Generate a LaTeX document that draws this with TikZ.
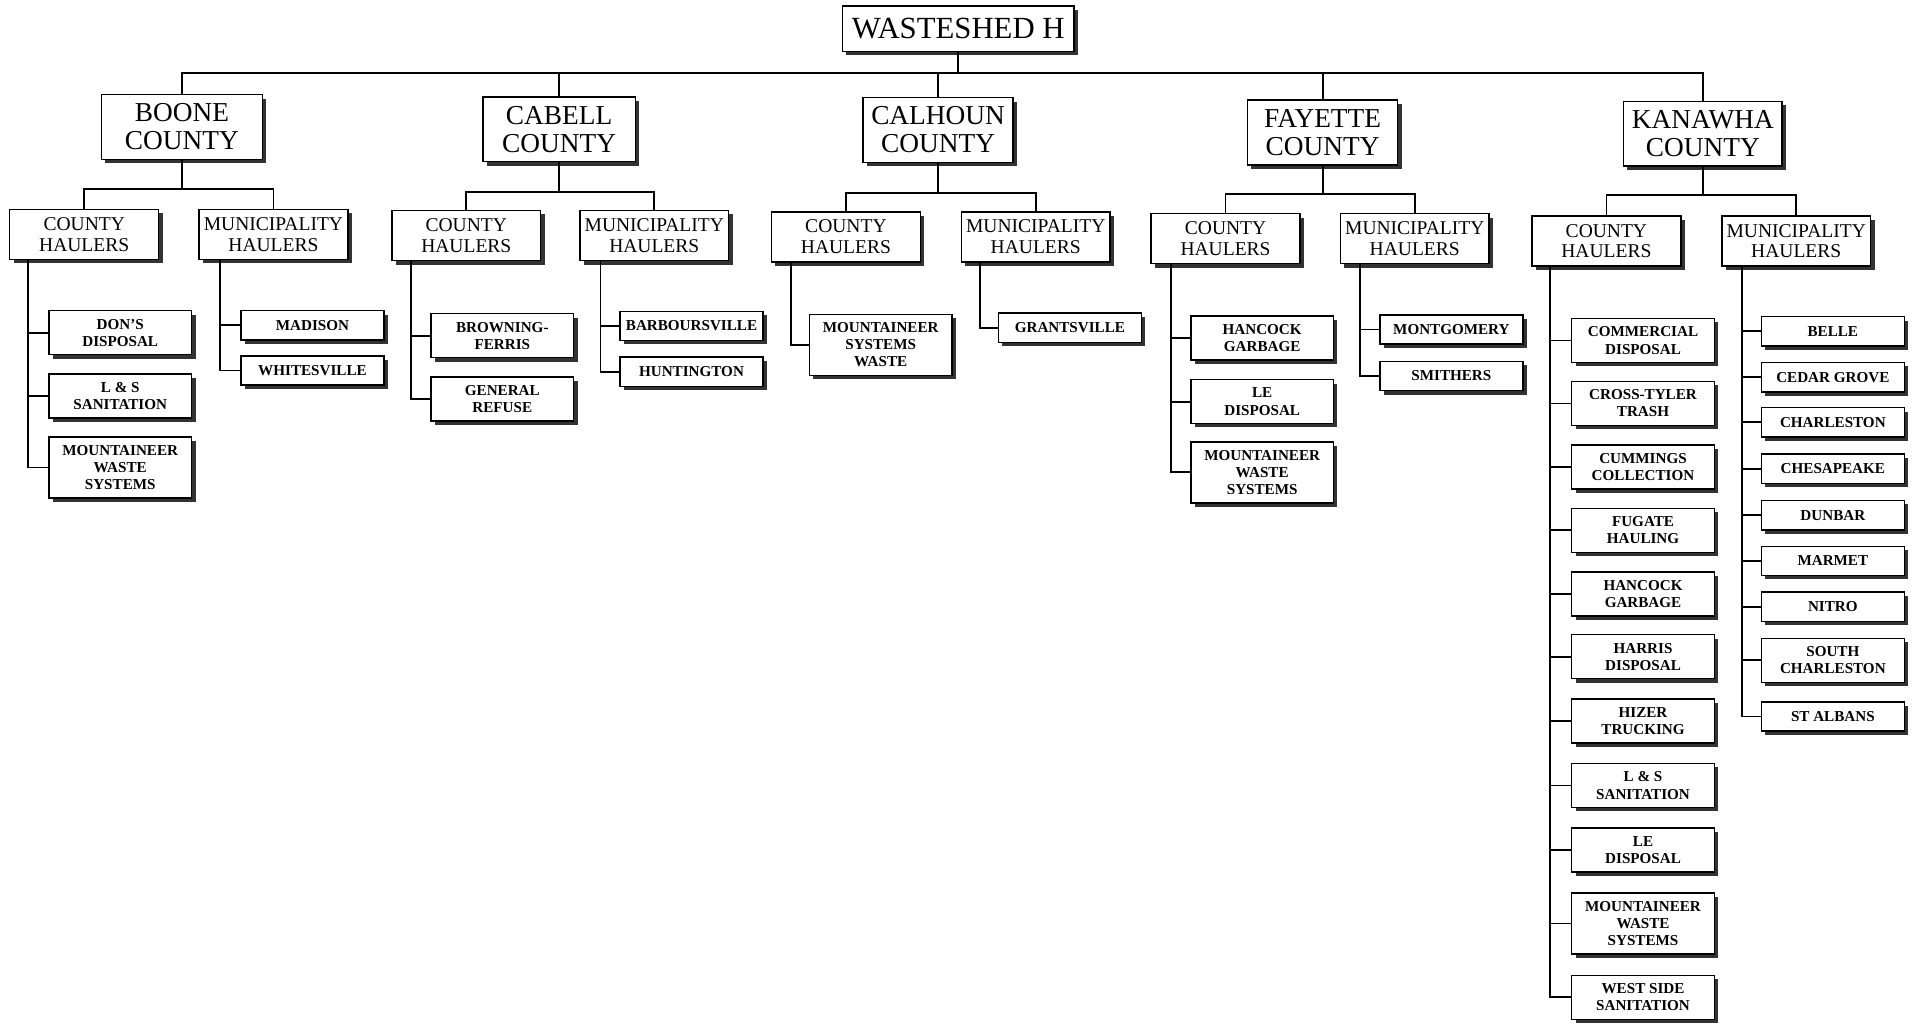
\documentclass[tikz,border=0pt]{standalone}
\usepackage{fontspec}
\setmainfont{Liberation Serif}
\usetikzlibrary{shadows}
\begin{document}
\begin{tikzpicture}[x=0.5pt,y=-0.5pt,
 box/.style={draw, line width=0.6pt, fill=white, inner sep=0pt, align=center,
   drop shadow={shadow xshift=1.6pt, shadow yshift=-1.6pt, fill=black!80, opacity=1}},
 topbox/.style={box, minimum width=95pt, minimum height=18.5pt, font=\fontsize{12.6}{14}\selectfont},
 cty/.style={box, minimum height=26.5pt, font=\fontsize{11.2}{11.5}\selectfont},
 hl/.style={box, minimum width=61pt, minimum height=20.5pt, font=\fontsize{8}{8.5}\selectfont},
 leaf/.style={box, minimum width=58.5pt, font=\bfseries\fontsize{6.2}{7}\selectfont},
 lone/.style={leaf, minimum height=12pt},
 ltwo/.style={leaf, minimum height=18pt},
 lthree/.style={leaf, minimum height=25pt},
 ln/.style={line width=0.75pt}
]
\fill[white] (0,0) rectangle (1568,839);
\useasboundingbox (0,0) rectangle (1568,839);

% level 1 and 2
\node[topbox] (ws) at (785,23.5) {WASTESHED H};
\node[cty, minimum width=66pt] (boone) at (149,104) {BOONE\\COUNTY};
\node[cty, minimum width=62.5pt] (cabell) at (458,106) {CABELL\\COUNTY};
\node[cty, minimum width=61.5pt] (calhoun) at (768.5,106.5) {CALHOUN\\COUNTY};
\node[cty, minimum width=61.5pt] (fayette) at (1083.5,108.5) {FAYETTE\\COUNTY};
\node[cty, minimum width=65pt] (kanawha) at (1395,109.5) {KANAWHA\\COUNTY};

\coordinate (bus0) at (0,60);
\draw[ln] (ws.south) -- (ws.south |- bus0);
\draw[ln] (boone.north) -- (boone.north |- bus0) -- (kanawha.north |- bus0) -- (kanawha.north);
\foreach \n in {cabell,calhoun,fayette} \draw[ln] (\n.north) -- (\n.north |- bus0);

% level 3
\node[hl] (bch) at (69,192) {COUNTY\\HAULERS};
\node[hl] (bmh) at (224,192) {MUNICIPALITY\\HAULERS};
\node[hl] (cch) at (382,193) {COUNTY\\HAULERS};
\node[hl] (cmh) at (536,193) {MUNICIPALITY\\HAULERS};
\node[hl] (lch) at (693,194) {COUNTY\\HAULERS};
\node[hl] (lmh) at (848.5,194) {MUNICIPALITY\\HAULERS};
\node[hl] (fch) at (1004,195.5) {COUNTY\\HAULERS};
\node[hl] (fmh) at (1159,195.5) {MUNICIPALITY\\HAULERS};
\node[hl] (kch) at (1316,197.5) {COUNTY\\HAULERS};
\node[hl] (kmh) at (1471.5,197.5) {MUNICIPALITY\\HAULERS};

\coordinate (busb) at (0,155);
\coordinate (busc) at (0,157);
\coordinate (busl) at (0,158);
\coordinate (busf) at (0,159);
\coordinate (busk) at (0,160);
\foreach \p/\c/\m/\b in {boone/bch/bmh/busb, cabell/cch/cmh/busc, calhoun/lch/lmh/busl, fayette/fch/fmh/busf, kanawha/kch/kmh/busk}{
  \draw[ln] (\p.south) -- (\p.south |- \b);
  \draw[ln] (\c.north) -- (\c.north |- \b) -- (\m.north |- \b) -- (\m.north);
}

% Boone
\node[ltwo] (b1) at (98.5,272.5) {DON'S\\DISPOSAL};
\node[ltwo] (b2) at (98.5,324.5) {L \& S\\SANITATION};
\node[lthree] (b3) at (98.5,383) {MOUNTAINEER\\WASTE\\SYSTEMS};
\node[lone] (bm1) at (256,266.5) {MADISON};
\node[lone] (bm2) at (256,303.5) {WHITESVILLE};
% Cabell
\node[ltwo] (c1) at (411.5,275) {BROWNING-\\FERRIS};
\node[ltwo] (c2) at (411.5,327) {GENERAL\\REFUSE};
\node[lone] (cm1) at (566.5,267) {BARBOURSVILLE};
\node[lone] (cm2) at (566.5,304.5) {HUNTINGTON};
% Calhoun
\node[lthree] (l1) at (721.5,282.5) {MOUNTAINEER\\SYSTEMS\\WASTE};
\node[lone] (lm1) at (876.5,268.5) {GRANTSVILLE};
% Fayette
\node[ltwo] (f1) at (1034,277) {HANCOCK\\GARBAGE};
\node[ltwo] (f2) at (1034,329) {LE\\DISPOSAL};
\node[lthree] (f3) at (1034,387) {MOUNTAINEER\\WASTE\\SYSTEMS};
\node[lone] (fm1) at (1189,270) {MONTGOMERY};
\node[lone] (fm2) at (1189,308) {SMITHERS};
% Kanawha county
\node[ltwo] (k1) at (1346,279) {COMMERCIAL\\DISPOSAL};
\node[ltwo] (k2) at (1346,330.5) {CROSS-TYLER\\TRASH};
\node[ltwo] (k3) at (1346,382.5) {CUMMINGS\\COLLECTION};
\node[ltwo] (k4) at (1346,434.5) {FUGATE\\HAULING};
\node[ltwo] (k5) at (1346,486.5) {HANCOCK\\GARBAGE};
\node[ltwo] (k6) at (1346,538) {HARRIS\\DISPOSAL};
\node[ltwo] (k7) at (1346,590.5) {HIZER\\TRUCKING};
\node[ltwo] (k8) at (1346,643.5) {L \& S\\SANITATION};
\node[ltwo] (k9) at (1346,696.5) {LE\\DISPOSAL};
\node[lthree] (k10) at (1346,756.5) {MOUNTAINEER\\WASTE\\SYSTEMS};
\node[ltwo] (k11) at (1346,817) {WEST SIDE\\SANITATION};
% Kanawha municipality
\node[lone] (km1) at (1501.5,271.5) {BELLE};
\node[lone] (km2) at (1501.5,309) {CEDAR GROVE};
\node[lone] (km3) at (1501.5,346) {CHARLESTON};
\node[lone] (km4) at (1501.5,384) {CHESAPEAKE};
\node[lone] (km5) at (1501.5,422) {DUNBAR};
\node[lone] (km6) at (1501.5,459.5) {MARMET};
\node[lone] (km7) at (1501.5,497) {NITRO};
\node[ltwo] (km8) at (1501.5,541) {SOUTH\\CHARLESTON};
\node[lone] (km9) at (1501.5,587) {ST ALBANS};

% spines
\coordinate (sbc) at (23,0);
\coordinate (sbm) at (180,0);
\coordinate (scc) at (337,0);
\coordinate (scm) at (492,0);
\coordinate (slc) at (648,0);
\coordinate (slm) at (803,0);
\coordinate (sfc) at (959,0);
\coordinate (sfm) at (1114,0);
\coordinate (skc) at (1270,0);
\coordinate (skm) at (1427,0);

\foreach \s/\h/\last/\others in {
  sbc/bch/b3/{b1,b2},
  sbm/bmh/bm2/{bm1},
  scc/cch/c2/{c1},
  scm/cmh/cm2/{cm1},
  slc/lch/l1/{},
  slm/lmh/lm1/{},
  sfc/fch/f3/{f1,f2},
  sfm/fmh/fm2/{fm1},
  skc/kch/k11/{k1,k2,k3,k4,k5,k6,k7,k8,k9,k10},
  skm/kmh/km9/{km1,km2,km3,km4,km5,km6,km7,km8}}{
  \draw[ln] (\s |- \h.south) -- (\s |- \last.west) -- (\last.west);
  \foreach \o in \others { \draw[ln] (\s |- \o.west) -- (\o.west); }
}
\end{tikzpicture}
\end{document}
